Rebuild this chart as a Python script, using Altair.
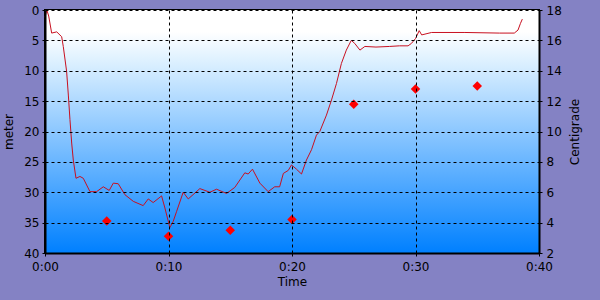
import altair as alt
import pandas as pd

# Depth profile (time in minutes, depth in metres)
time_min = [0, 0.15, 0.3, 0.54, 0.95, 1.35, 1.48, 1.75, 1.89, 2.02, 2.16, 2.29, 2.51, 2.83, 3.1,
            3.64, 4.18, 4.72, 5.2, 5.53, 5.93, 6.47, 7.15, 7.95, 8.36, 8.76, 9.44, 9.71, 10.11,
            10.38, 10.65, 11.19, 11.6, 12.54, 13.35, 13.89, 14.7, 15.37, 16.18, 16.45, 16.8,
            17.4, 18.07, 18.6, 19.0, 19.3, 19.7, 19.96, 20.36, 20.77, 21.17, 21.58, 21.98,
            22.25, 22.79, 23.2, 23.6, 24.0, 24.4, 24.8, 25.08, 25.5, 25.9, 26.8, 27.9, 28.7,
            29.4, 29.67, 30.0, 30.3, 30.5, 31.3, 34.0, 36.8, 38.0, 38.3, 38.5, 38.65]
depth_m = [1.2, 0.0, 1.0, 3.8, 3.6, 4.4, 6.0, 10.1, 14.0, 18.0, 21.9, 24.7, 27.7, 27.4, 27.7,
           29.9, 29.9, 29.1, 29.7, 28.5, 28.6, 30.4, 31.5, 32.2, 31.1, 31.7, 30.6, 32.6, 35.8,
           34.8, 33.2, 30.0, 31.1, 29.4, 30.0, 29.5, 30.2, 29.2, 26.8, 27.0, 26.2,
           28.5, 29.9, 29.1, 29.1, 26.9, 26.4, 25.5, 26.2, 27.0, 24.7, 23.0, 20.6,
           20.0, 17.3, 14.8, 12.1, 8.8, 6.6, 5.0, 5.5, 6.6, 6.0, 6.1, 6.0, 5.9,
           5.9, 5.5, 4.7, 3.4, 4.1, 3.7, 3.7, 3.8, 3.8, 3.3, 2.2, 1.5]

# Temperature samples
temp_time = [5, 10, 15, 20, 25, 30, 35]
temp_c = [4.1, 3.1, 3.5, 4.2, 11.8, 12.8, 13.0]

x_ticks = [0, 10, 20, 30, 40]
depth_ticks = [0, 5, 10, 15, 20, 25, 30, 35, 40]
temp_ticks = [2, 4, 6, 8, 10, 12, 14, 16, 18]

W, H = 494, 243
FONT = "DejaVu Sans"

depth_df = pd.DataFrame({"t": time_min, "depth": depth_m})
temp_df = pd.DataFrame({"t": temp_time, "temp": temp_c})

label_expr = ("floor(datum.value/60) + ':' + (datum.value % 60 < 10 ? '0' : '') + (datum.value % 60)")

x_axis = alt.Axis(values=x_ticks, labelExpr=label_expr, title="Time",
                  grid=True, gridColor="black", gridDash=[3, 3], gridOpacity=1,
                  domainColor="black", domainWidth=2, tickSize=3, tickColor="black",
                  labelPadding=5, titlePadding=4, labelFlush=False, zindex=1)
x_scale = alt.Scale(domain=[0, 40], nice=False, zero=False)

grad = alt.LinearGradient(
    gradient="linear",
    stops=[alt.GradientStop(color="#ffffff", offset=0),
           alt.GradientStop(color="#ffffff", offset=0.09),
           alt.GradientStop(color="#e0f2ff", offset=0.2),
           alt.GradientStop(color="#0080ff", offset=1)],
    x1=0, x2=0, y1=0, y2=1)

bg = alt.Chart(alt.Data(values=[{"a": 1}])).mark_rect(color=grad).encode(
    x=alt.value(0), x2=alt.value(W), y=alt.value(0), y2=alt.value(H))

line = alt.Chart(depth_df).mark_line(color="#c81020", strokeWidth=1).encode(
    x=alt.X("t:Q", scale=x_scale, axis=x_axis),
    y=alt.Y("depth:Q",
            scale=alt.Scale(domain=[0, 40], reverse=True, nice=False, zero=False),
            axis=alt.Axis(values=depth_ticks, title="meter", orient="left",
                          grid=True, gridColor="black", gridDash=[3, 3], gridOpacity=1,
                          domainColor="black", domainWidth=2, tickSize=3, tickColor="black",
                          labelPadding=3, titlePadding=8, labelFlush=False, zindex=1)))

pts = alt.Chart(temp_df).mark_point(shape="diamond", filled=True, color="#ff0000",
                                    size=90, opacity=1).encode(
    x=alt.X("t:Q", scale=x_scale, axis=x_axis),
    y=alt.Y("temp:Q",
            scale=alt.Scale(domain=[2, 18], nice=False, zero=False),
            axis=alt.Axis(values=temp_ticks, title="Centigrade", orient="right",
                          grid=False, domainColor="black", domainWidth=2, tickSize=3,
                          tickColor="black", labelPadding=4, titlePadding=20,
                          titleAngle=270, labelFlush=False, zindex=1)))

depth_layer = alt.layer(bg, line)

chart = alt.layer(depth_layer, pts).resolve_scale(y="independent").properties(
    width=W, height=H,
    background="#8482c4",
    padding={"left": 45, "top": 10, "right": 61, "bottom": 47},
    autosize=alt.AutoSizeParams(type="none"),
).configure_view(stroke="black", strokeWidth=2).configure_axis(
    labelFont=FONT, labelFontSize=12, labelColor="black",
    titleFont=FONT, titleFontSize=12, titleColor="black", titleFontWeight="normal",
)

chart.save("out.html", embed_options={"renderer": "svg", "actions": False})
